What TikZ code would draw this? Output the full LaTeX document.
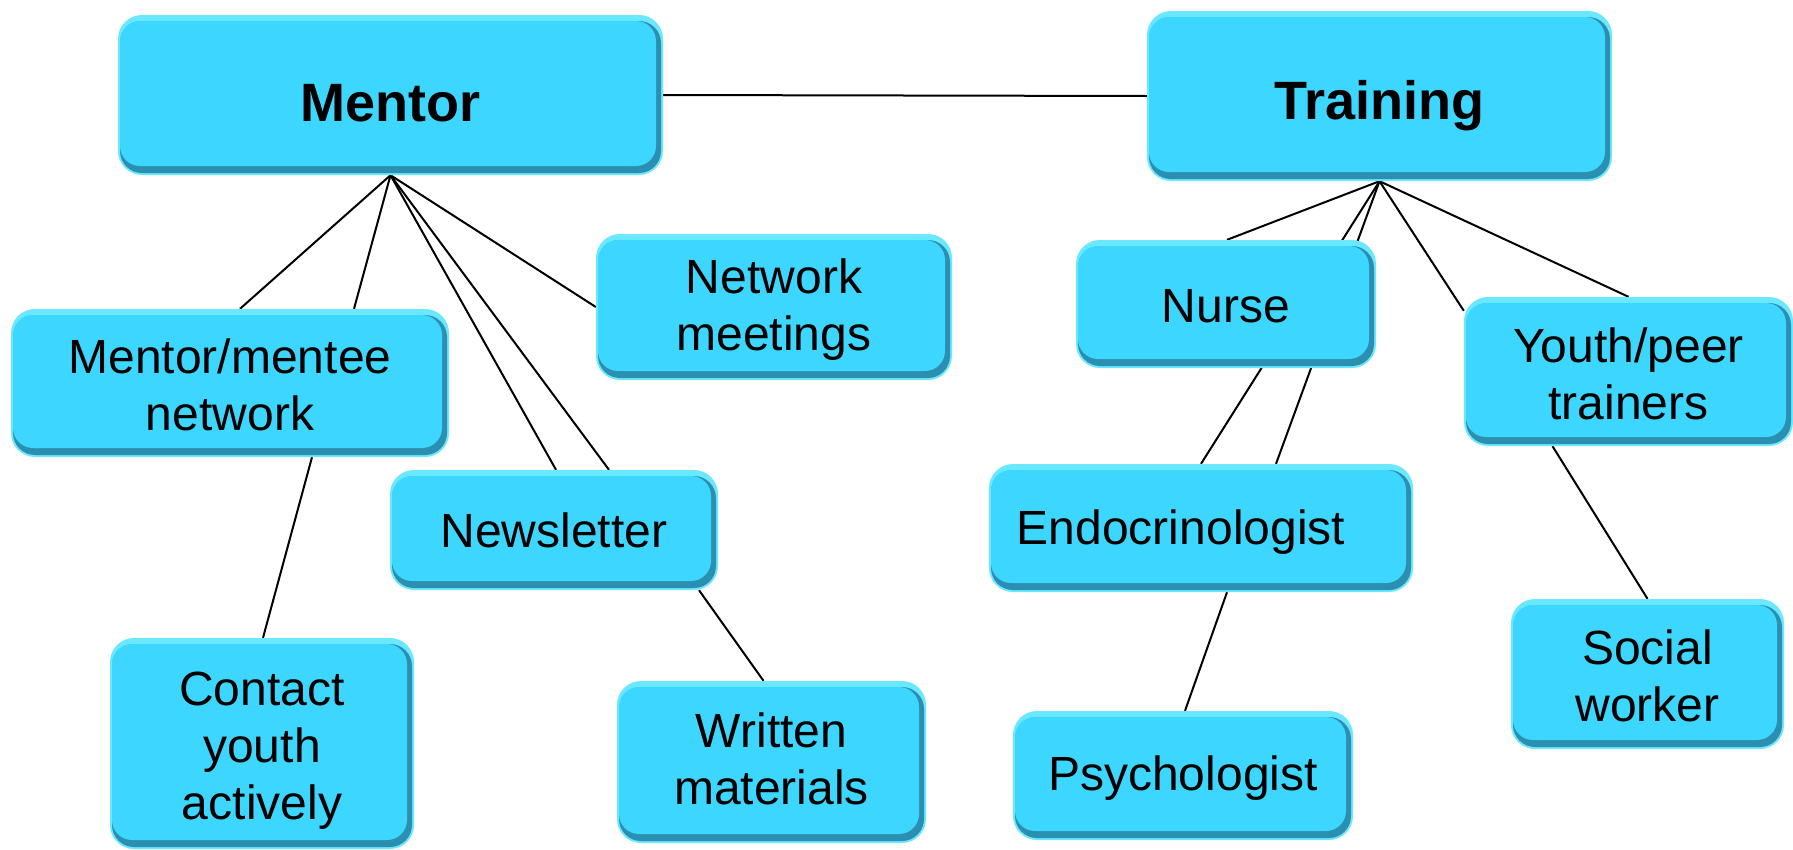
\documentclass[tikz,border=0pt]{standalone}
\usepackage{fontspec}
\setmainfont{Liberation Sans}
\usetikzlibrary{backgrounds}
\definecolor{cyanM}{HTML}{3DD6FE}
\definecolor{cyanL}{HTML}{6AE8FF}
\definecolor{cyanD}{HTML}{2A8FB0}
\tikzset{
  box/.style={rounded corners=24pt, fill=cyanL, inner sep=0pt, align=center,
    font=\fontsize{48}{57}\selectfont,
    path picture={
      \fill[cyanD, rounded corners=22pt]
        ([xshift=2pt,yshift=-6pt]path picture bounding box.north west) rectangle
        ([xshift=-2pt,yshift=2pt]path picture bounding box.south east);
      \fill[cyanM, rounded corners=20pt]
        ([xshift=2pt,yshift=-6pt]path picture bounding box.north west) rectangle
        ([xshift=-7pt,yshift=9pt]path picture bounding box.south east);
    }},
  head/.style={box, font=\fontsize{54}{60}\selectfont\bfseries},
  link/.style={line width=2pt, black},
}
\newcommand{\lowr}[2]{\raisebox{-#1}[\height][\depth]{#2}}
\begin{document}
\begin{tikzpicture}[x=1pt,y=-1pt]
\useasboundingbox (0,0) rectangle (1793,849);
% Mentor side
\node[head, minimum width=545pt, minimum height=160pt] (mentor) at (390.5,95) {\lowr{8pt}{Mentor}};
\node[head, minimum width=465pt, minimum height=170pt] (training) at (1379.5,96) {\lowr{10pt}{Training}};
\node[box, minimum width=438pt, minimum height=148pt] (mm) at (230,383) {\lowr{2pt}{Mentor/mentee}\\\lowr{2pt}{network}};
\node[box, minimum width=356pt, minimum height=146pt] (netm) at (774,307) {\lowr{3pt}{Network}\\\lowr{3pt}{meetings}};
\node[box, minimum width=328pt, minimum height=120pt] (news) at (554,530) {Newsletter};
\node[box, minimum width=304pt, minimum height=211pt] (contact) at (262,743.5) {\lowr{7pt}{Contact}\\\lowr{7pt}{youth}\\\lowr{7pt}{actively}};
\node[box, minimum width=309pt, minimum height=162pt] (written) at (771.5,762) {\lowr{-3pt}{Written}\\\lowr{-3pt}{materials}};
% Training side
\node[box, minimum width=300pt, minimum height=128pt] (nurse) at (1226,304) {\lowr{2pt}{Nurse}};
\node[box, minimum width=329pt, minimum height=149pt] (youth) at (1628.5,371.5) {\lowr{2pt}{Youth/peer}\\\lowr{2pt}{trainers}};
\node[box, minimum width=424pt, minimum height=128pt] (endo) at (1201,528) {\lowr{4pt}{Endocrinologist}\hspace{40pt}};
\node[box, minimum width=340pt, minimum height=129pt] (psych) at (1183,775.5) {\lowr{3pt}{Psychologist}};
\node[box, minimum width=273pt, minimum height=150pt] (social) at (1647.5,674) {\lowr{2pt}{Social}\\\lowr{2pt}{worker}};

\begin{scope}[on background layer]
  \draw[link] (mentor.east) -- (training.west);
  \draw[link] (mentor.south) -- ([xshift=10pt]mm.north);
  \draw[link] (mentor.south) -- ([xshift=124pt]mm.north);
  \draw[link] (mentor.south) -- ([xshift=2pt]news.north);
  \draw[link] (mentor.south) -- ([xshift=55pt]news.north);
  \draw[link] (mentor.south) -- (netm.west);
  \draw[link] ([xshift=82pt]mm.south) -- ([xshift=1pt]contact.north);
  \draw[link] ([xshift=145pt]news.south) -- ([xshift=-8pt]written.north);
  \draw[link] (training.south) -- ([xshift=1pt]nurse.north);
  \draw[link] (training.south) -- (endo.north);
  \draw[link] (training.south) -- ([xshift=75pt]endo.north);
  \draw[link] (training.south) -- ([yshift=-14pt]youth.north west);
  \draw[link] (training.south) -- (youth.north);
  \draw[link] ([xshift=-76pt]youth.south) -- (social.north);
  \draw[link] ([xshift=26pt]endo.south) -- ([xshift=2pt]psych.north);
\end{scope}
\end{tikzpicture}
\end{document}
